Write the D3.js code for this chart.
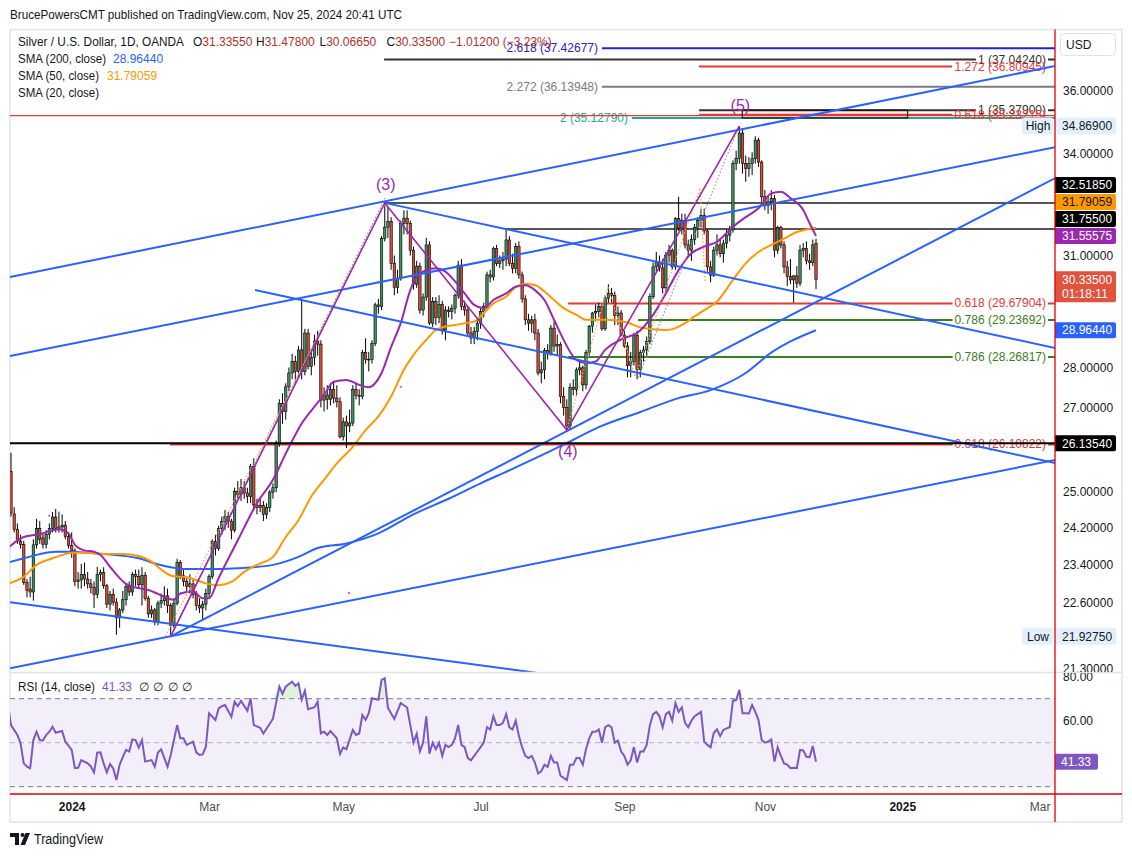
<!DOCTYPE html>
<html><head><meta charset="utf-8">
<script src="https://cdn.jsdelivr.net/npm/d3@7/dist/d3.min.js"></script>
<style>html,body{margin:0;padding:0;background:#fff;}svg{display:block;}</style>
</head><body>
<svg id="chart" width="1132" height="857"></svg>
<script>
// ================= DATA =================
// Daily XAG/USD bars (OANDA), Dec 4 2023 .. Nov 25 2024
const barOpen = [25.47,24.51,24.17,23.91,23.84,23.03,22.89,22.83,23.83,24.19,23.98,23.84,24.06,24.19,24.44,24.19,24.22,24.26,24.01,23.82,
23.70,23.05,23.08,23.20,23.10,23.00,22.92,22.78,23.20,23.24,22.96,22.58,22.78,22.62,22.30,22.46,22.67,22.95,22.83,23.20,
23.15,22.98,23.18,22.70,22.38,22.46,22.22,22.60,22.65,22.75,22.55,22.15,22.60,23.45,23.17,23.05,22.95,23.00,22.78,22.55,
22.50,22.58,22.80,23.15,23.90,23.75,24.19,24.34,24.45,24.35,24.15,25.01,24.95,25.10,24.98,24.90,25.59,24.71,24.65,24.70,
24.50,24.65,25.00,25.10,26.14,27.10,26.90,27.51,27.86,28.15,27.90,28.45,27.90,28.89,28.03,28.26,28.68,28.60,27.18,27.31,
27.20,27.44,27.23,27.14,26.29,26.65,26.55,26.62,27.44,27.30,27.27,28.38,28.21,28.20,28.62,29.64,29.59,31.48,31.81,31.97,
30.78,30.11,30.35,31.92,32.07,31.92,31.15,30.20,30.70,29.50,29.85,31.30,29.15,29.73,29.30,29.65,28.97,29.50,29.46,29.55,
29.90,30.73,29.60,29.50,28.89,28.76,28.93,29.15,29.46,29.59,30.46,30.40,31.20,30.78,30.85,30.90,31.44,30.78,30.64,31.25,
30.46,29.80,29.24,29.15,29.24,28.89,27.86,27.94,28.43,28.35,29.02,28.55,28.59,27.27,27.00,26.55,27.50,27.45,27.94,27.99,
27.56,28.38,29.07,29.42,29.46,29.59,29.00,29.82,29.95,29.90,29.35,29.42,28.84,28.55,28.05,28.15,28.82,27.95,28.38,28.45,
28.67,29.86,30.68,30.80,30.65,30.10,31.01,31.15,30.68,32.06,31.78,32.00,31.30,31.15,31.45,31.80,32.00,32.15,31.70,30.68,
30.45,31.15,31.30,31.05,31.35,31.58,31.73,33.71,33.86,34.65,33.71,33.55,33.70,33.85,34.43,33.75,32.70,32.45,32.55,32.65,
31.15,31.80,31.30,30.68,30.41,30.32,30.43,30.23,31.15,31.20,30.85,30.80,31.3355];
const barHigh = [25.91,24.66,24.30,24.05,23.92,23.10,23.15,23.95,24.40,24.35,24.10,24.15,24.30,24.55,24.62,24.56,24.50,24.35,24.10,24.10,
23.75,23.25,23.42,23.45,23.25,23.10,23.05,23.36,23.30,23.35,23.00,22.85,22.90,22.70,22.50,22.85,23.00,23.05,23.25,23.30,
23.30,23.35,23.25,22.75,22.55,22.50,22.65,22.80,22.95,22.90,22.60,22.70,23.53,23.50,23.30,23.15,23.20,23.10,22.85,22.70,
22.65,22.90,23.20,23.95,24.05,24.25,24.45,24.60,24.55,24.40,25.10,25.25,25.30,25.25,25.10,25.65,25.78,24.85,24.85,24.80,
24.75,25.05,25.20,26.20,27.20,27.35,27.60,28.00,28.35,28.30,28.55,29.80,29.00,29.00,28.45,28.85,28.95,28.70,27.50,27.55,
27.60,27.65,27.55,27.25,26.75,26.80,26.95,27.55,27.60,27.45,28.45,28.75,28.40,28.70,29.70,29.80,31.55,32.5185,32.40,32.10,
31.00,30.60,32.00,32.30,32.30,32.00,31.25,30.85,30.80,29.95,31.50,31.40,29.85,29.85,29.90,29.75,29.60,29.60,29.65,29.95,
30.85,30.90,29.75,29.60,29.05,29.05,29.25,29.55,29.70,30.55,30.60,31.25,31.30,31.00,31.10,31.755,31.55,31.05,31.35,31.40,
30.55,29.90,29.40,29.35,29.40,29.00,28.15,28.50,28.60,29.10,29.20,28.85,28.65,27.50,27.20,27.60,27.70,28.00,28.15,28.05,
28.45,29.10,29.45,29.65,29.70,29.65,29.90,30.20,30.10,30.00,29.60,29.50,28.95,28.65,28.40,28.90,28.95,28.45,28.55,28.80,
29.95,30.80,31.10,31.00,30.90,31.10,31.30,31.20,32.10,32.70,32.20,32.20,31.45,31.60,31.90,32.10,32.35,32.35,31.75,30.85,
31.25,31.60,31.45,31.45,31.75,31.85,33.80,34.10,34.869,34.80,33.95,33.90,34.05,34.55,34.50,33.80,32.90,32.75,32.90,32.75,
31.85,31.85,31.40,30.85,30.90,30.45,30.70,31.30,31.35,31.40,31.05,31.45,31.478];
const barLow = [24.45,24.10,23.85,23.75,22.98,22.72,22.72,22.65,23.75,23.85,23.75,23.75,23.95,24.10,24.10,24.10,24.10,23.95,23.75,23.55,
22.95,22.90,22.90,22.95,22.90,22.80,22.50,22.70,23.05,22.90,22.50,22.45,22.55,21.96,22.10,22.40,22.55,22.75,22.75,22.95,
22.90,22.55,22.65,22.30,22.30,22.15,22.15,22.50,22.55,22.40,21.9275,22.10,22.55,23.10,22.95,22.85,22.80,22.70,22.45,22.40,
22.25,22.45,22.70,23.10,23.60,23.70,24.05,24.15,24.20,23.95,24.10,24.85,24.80,24.85,24.75,24.75,24.60,24.50,24.55,24.35,
24.40,24.55,24.85,25.00,26.05,26.60,26.70,27.40,27.70,27.60,27.75,27.70,27.80,27.95,27.80,28.05,28.30,27.00,26.90,26.95,
27.05,27.10,27.00,26.25,26.20,26.02,26.40,26.55,27.20,27.05,27.20,28.10,27.90,28.10,28.55,29.40,29.50,31.40,31.50,30.60,
29.90,29.95,30.30,31.60,31.60,31.00,30.05,30.10,29.40,29.35,29.75,29.10,29.05,29.10,29.15,28.85,28.70,29.30,29.25,29.40,
29.80,29.50,29.35,28.80,28.60,28.60,28.70,29.00,29.30,29.50,30.25,30.30,30.70,30.65,30.60,30.70,30.70,30.50,30.50,30.35,
29.70,29.10,28.95,28.90,28.70,27.80,27.60,27.70,28.20,28.30,28.40,28.30,27.10,26.80,26.45,26.45,27.30,27.30,27.80,27.40,
27.45,28.30,28.90,29.20,29.30,28.95,28.95,29.70,29.70,29.10,29.10,28.80,28.50,27.75,27.75,28.05,27.70,27.75,28.15,28.30,
28.60,29.80,30.55,30.55,29.95,30.00,30.80,30.60,30.60,31.70,31.60,31.20,30.95,30.85,31.30,31.50,31.80,31.60,30.55,30.25,
30.40,31.00,30.95,30.80,31.20,31.40,31.65,33.50,33.70,33.40,33.15,33.30,33.35,33.70,33.60,32.55,32.30,32.20,32.30,30.95,
31.05,31.20,30.50,30.15,30.20,29.70,30.10,30.15,30.95,30.75,30.60,30.70,30.0665];
const barClose = [24.53,24.17,23.91,23.84,23.03,22.86,22.83,23.83,24.19,23.95,23.84,24.06,24.19,24.44,24.19,24.22,24.26,24.01,23.82,23.70,
23.05,23.08,23.20,23.10,23.00,22.92,22.78,23.20,23.24,22.96,22.58,22.78,22.62,22.30,22.46,22.67,22.95,22.83,23.20,23.15,
22.98,23.18,22.70,22.38,22.46,22.22,22.60,22.65,22.75,22.55,22.15,22.60,23.45,23.17,23.05,22.95,23.00,22.78,22.55,22.50,
22.58,22.80,23.15,23.90,23.75,24.19,24.34,24.45,24.35,24.15,25.01,24.95,25.10,24.98,24.90,25.59,24.71,24.65,24.70,24.50,
24.65,25.00,25.10,26.14,27.10,26.90,27.51,27.86,28.15,27.90,28.45,27.90,28.89,28.03,28.26,28.68,28.60,27.18,27.31,27.20,
27.44,27.23,27.14,26.29,26.65,26.55,26.62,27.44,27.30,27.27,28.38,28.21,28.20,28.62,29.64,29.59,31.48,31.81,31.97,30.78,
30.11,30.35,31.92,32.07,31.92,31.15,30.20,30.70,29.50,29.85,31.30,29.15,29.73,29.30,29.65,28.97,29.50,29.46,29.55,29.90,
30.73,29.60,29.50,28.89,28.76,28.93,29.15,29.46,29.59,30.46,30.40,31.20,30.78,30.85,30.90,31.44,30.78,30.64,31.25,30.46,
29.80,29.24,29.15,29.24,28.89,27.86,27.94,28.43,28.35,29.02,28.55,28.59,27.27,27.00,26.55,27.50,27.45,27.94,27.99,27.56,
28.38,29.07,29.42,29.46,29.59,29.00,29.82,29.95,29.90,29.35,29.42,28.84,28.55,28.05,28.15,28.82,27.95,28.38,28.45,28.67,
29.86,30.68,30.80,30.65,30.10,31.01,31.15,30.68,32.06,31.78,32.00,31.30,31.15,31.45,31.80,32.00,32.15,31.70,30.68,30.45,
31.15,31.30,31.05,31.35,31.58,31.73,33.71,33.86,34.65,33.71,33.55,33.70,33.85,34.43,33.75,32.70,32.45,32.55,32.65,31.15,
31.80,31.30,30.68,30.41,30.32,30.43,30.23,31.15,31.20,30.85,30.80,31.30,30.335];

// Moving averages: [bar index, price]
const sma200 = [[-1,23.45],[4,23.54],[9,23.63],[14,23.68],[19,23.68],[24,23.66],[29,23.63],[40,23.54],[45,23.43],[50,23.35],[55,23.31],[61,23.31],[71,23.33],[82,23.40],[90,23.57],[96,23.76],[105,23.86],[115,24.08],[126,24.5],[137,24.85],[147,25.2],[156,25.5],[166,25.85],[174,26.14],[184,26.52],[197,26.89],[209,27.23],[219,27.43],[230,27.86],[238,28.38],[244,28.67],[252,28.9644]];
const sma50 = [[-1,23.0],[4,23.15],[8,23.40],[13,23.54],[17,23.63],[19,23.66],[24,23.66],[29,23.63],[35,23.63],[40,23.59],[44,23.47],[48,23.25],[51,23.16],[54,23.15],[58,23.08],[61,23.01],[65,22.97],[69,23.04],[73,23.25],[77,23.40],[82,23.57],[86,24.0],[90,24.37],[94,24.9],[98,25.28],[102,25.66],[107,26.05],[111,26.45],[115,26.78],[119,27.27],[123,27.94],[126,28.32],[130,28.71],[133,28.97],[136,29.06],[139,29.10],[142,29.15],[145,29.19],[148,29.42],[151,29.68],[155,29.86],[158,30.13],[161,30.21],[164,30.18],[167,30.0],[170,29.77],[173,29.55],[177,29.37],[180,29.24],[186,29.24],[192,29.19],[198,29.02],[205,28.97],[208,29.02],[211,29.15],[214,29.33],[217,29.50],[221,29.73],[226,30.32],[230,30.78],[234,31.10],[238,31.30],[242,31.48],[246,31.67],[250,31.76],[252,31.79059]];
const sma20 = [[-1,23.76],[4,24.0],[9,24.06],[13,24.15],[15,24.17],[18,24.08],[20,23.83],[23,23.71],[26,23.68],[28,23.61],[31,23.36],[34,23.12],[36,23.0],[38,22.94],[40,22.91],[43,22.87],[46,22.79],[49,22.70],[51,22.67],[53,22.80],[57,22.84],[60,22.70],[62,22.70],[65,23.12],[71,23.93],[77,24.75],[82,25.28],[86,25.89],[91,26.61],[95,27.02],[98,27.31],[101,27.64],[105,27.68],[109,27.56],[112,27.50],[114,27.60],[116,27.86],[119,28.53],[122,29.15],[125,30.04],[127,30.41],[130,30.59],[133,30.64],[136,30.55],[139,30.28],[142,29.95],[145,29.64],[148,29.55],[151,29.77],[155,29.95],[158,30.13],[161,30.17],[164,30.04],[167,29.77],[170,29.24],[173,28.71],[177,28.19],[180,28.11],[183,28.15],[186,28.45],[192,28.76],[196,28.89],[201,29.37],[205,29.95],[209,30.59],[213,31.06],[217,31.25],[221,31.39],[226,31.82],[230,32.10],[234,32.36],[238,32.80],[241,32.85],[244,32.66],[248,32.31],[250,31.92],[252,31.55575]];

// RSI(14): [bar index, value]
const rsi14 = [[-1,68],[0,58],[2,53.5],[3,49.7],[4,40.6],[5,39.1],[6,38.4],[7,51.2],[8,55],[9,51.2],[10,51],[11,53.5],[12,55],[13,57.3],[14,54.5],[16,55.3],[17,50.5],[19,46.7],[20,38.4],[21,38.6],[22,42.1],[24,40.6],[25,39.2],[26,36.5],[27,45.5],[28,45.6],[29,40.6],[30,36.5],[31,40.3],[32,38.3],[33,33],[34,40],[35,43.4],[36,46.7],[37,46],[38,51.5],[39,51.2],[40,47.7],[41,51.2],[42,41.4],[44,42.1],[45,39.1],[46,45.5],[47,47],[49,39.1],[50,44.4],[52,58],[53,52],[54,52],[55,49],[57,50.5],[58,45.6],[59,44.4],[60,44.7],[61,48.2],[62,63.4],[64,60.3],[65,65.6],[66,66.6],[67,67.1],[69,61.7],[70,68.6],[71,66.6],[72,69],[74,64.5],[75,70.2],[76,58],[78,56.8],[79,54.2],[81,58.6],[82,60.9],[84,75.5],[85,72.2],[86,75.5],[88,77.7],[89,75.8],[90,77],[91,69.5],[92,73.6],[93,65.2],[95,66.1],[96,68.6],[97,54.2],[98,55],[99,53.5],[100,55.3],[102,52],[103,44.9],[104,47.9],[105,47],[107,55.8],[108,53.5],[109,54.2],[110,62.6],[111,60.3],[112,63.4],[113,70.2],[115,69.5],[116,78.5],[117,79.3],[118,65.8],[120,60.8],[122,68],[123,67],[124,66],[125,58],[126,50],[127,54],[128,46],[129,50],[130,62],[131,45],[132,50],[133,47],[134,50],[135,44],[136,49],[137,48],[138,49],[139,52],[140,58],[141,49],[142,48],[143,43],[144,42],[145,44],[146,46],[147,48],[148,50],[149,57],[150,56],[151,62],[152,58],[153,58],[154,59],[155,63],[156,57],[157,56],[158,60],[159,53],[160,48],[161,44],[162,43],[163,44],[164,41],[165,36],[166,37],[167,40],[168,39],[169,44],[170,41],[171,41],[172,35],[173,34],[174,33],[175,40],[176,40],[177,43],[178,43],[179,40],[180,47],[181,52],[182,55],[183,55],[184,56],[185,50],[186,57],[187,58],[188,57],[189,50],[190,51],[191,46],[192,44],[193,40],[194,42],[195,48],[196,41],[197,46],[198,46],[199,49],[200,58],[201,63],[202,64],[203,62],[204,57],[205,63],[206,64],[207,60],[208,68],[209,64],[210,66],[211,59],[212,57],[213,60],[214,62],[215,63],[216,64],[217,50.5],[218,49],[219,47.9],[220,54.4],[221,56.1],[222,53],[223,55.8],[224,56.5],[225,57],[226,69.1],[227,69.4],[228,74],[229,63.4],[230,63.4],[231,63.3],[232,67.1],[233,64],[234,60.3],[235,51.2],[236,50],[237,50.5],[238,51.5],[239,41.4],[240,47.9],[241,44],[242,40.6],[243,40],[244,38.4],[245,38.6],[246,38.4],[247,46.7],[248,46.5],[249,43.6],[250,43.4],[251,48.5],[252,41.33]];

// Axis tick values (the ones not hidden by value markers)
const priceTicks = [36, 34, 31, 28, 27, 25, 24.2, 23.4, 22.6, 21.3];
const rsiTicks = [80, 60];
const monthNames = ['Jan','Feb','Mar','Apr','May','Jun','Jul','Aug','Sep','Oct','Nov','Dec'];
const closedDays = ['2023-12-25','2024-01-01','2024-03-29'];

// Drawings anchored in (bar index, price)
const trendLines = [
  [[-0.31,30.40],[326.9,36.83]],
  [[-0.31,28.29],[326.9,34.21]],
  [[-0.31,21.30],[326.9,25.74]],
  [[50,21.9275],[326.9,33.26]],
  [[-0.31,22.62],[326.9,19.91]],
  [[117,32.5185],[326.9,28.50]],
  [[76.4,30.04],[326.9,25.67]]
];
const waveLine = [[50,21.9275],[117,32.5185],[174,26.45],[228,34.869]];
const waveLabels = [{t:'(3)',i:117,p:32.5185,dy:-13},{t:'(4)',i:174,p:26.45,dy:27},{t:'(5)',i:228,p:34.869,dy:-15}];
const fibLevels = [
  {k:'blue',  p:37.42677, from:185,   to:327,  text:'2.618 (37.42677)', side:'left'},
  {k:'black', p:37.0424,  from:116.8, to:327,  text:'1 (37.04240)',     side:'right'},
  {k:'red',   p:36.80945, from:215.4, to:294.6,text:'1.272 (36.80945)', side:'right'},
  {k:'gray',  p:36.13948, from:185,   to:327,  text:'2.272 (36.13948)', side:'left'},
  {k:'black', p:35.379,   from:215.4, to:327,  text:'1 (35.37900)',     side:'right'},
  {k:'red',   p:35.23215, from:215.4, to:294.6,text:'0.618 (35.23215)', side:'right'},
  {k:'teal',  p:35.1279,  from:194.4, to:327,  text:'2 (35.12790)',     side:'left'},
  {k:'red',   p:29.67904, from:174.4, to:327,  text:'0.618 (29.67904)', side:'right'},
  {k:'green', p:29.23692, from:196.3, to:327,  text:'0.786 (29.23692)', side:'right'},
  {k:'green', p:28.26817, from:174.4, to:327,  text:'0.786 (28.26817)', side:'right'},
  {k:'red',   p:26.10822, from:49.8,  to:327,  text:'0.618 (26.10822)', side:'right'}
];
const plainLevels = [
  {k:'dgray', p:32.5185, from:117},
  {k:'dgray', p:31.755,  from:154.7},
  {k:'redthin', p:35.20, from:-0.31}
];
const supportLevel = {p:26.1354, from:-0.31};
const boxZone = {i0:228.9, i1:280.7, p0:35.379, p1:35.1279};
const dottedOrange = [
  [[48.3,21.93],[117.1,32.49]],
  [[117.1,32.49],[131.8,30.82]],
  [[173.8,26.43],[186.9,30.13],[195.4,27.76],[215.7,32.96],[217.3,30.23]]
];
const dottedGray = [
  [[49.9,21.93],[117.1,32.66]],
  [[196.3,27.74],[227.6,34.81]]
];
const pinkDots = [[12,24.47],[105.8,22.81],[122,27.51]];
const axisMarkers = [
  {v:32.5185,  t:'32.51850', bg:'#000000', fg:'#ffffff'},
  {v:31.79059, t:'31.79059', bg:'#ff9800', fg:'#131722'},
  {v:31.755,   t:'31.75500', bg:'#000000', fg:'#ffffff'},
  {v:31.55575, t:'31.55575', bg:'#9c27b0', fg:'#ffffff'},
  {v:30.335,   t:'30.33500', t2:'01:18:11', bg:'#e0533f', fg:'#ffffff'},
  {v:28.9644,  t:'28.96440', bg:'#2962ff', fg:'#ffffff'},
  {v:26.1354,  t:'26.13540', bg:'#000000', fg:'#ffffff'}
];
const highLow = [{v:34.869, name:'High', t:'34.86900'},{v:21.9275, name:'Low', t:'21.92750'}];

// ================= RENDER =================
const FONT = '"Liberation Sans", Arial, Helvetica, sans-serif';
const svg = d3.select('#chart').style('font-family', FONT);
const L = 10, R = 1055, T = 30, B = 672, RT = 673, RB = 794, FR = 1122, FB = 822;
const GREEN = '#3f8f5f', RED = '#d94a33', BLUE = '#2962ff', PURPLE = '#9c27b0', ORANGE = '#ff9800';
const lvlColor = {blue:'#2323c8', black:'#333333', red:'#e53935', gray:'#787b86', teal:'#26a69a', green:'#3b7d23', dgray:'#555555', redthin:'#e53935'};

const x = d3.scaleLinear().domain([0, 252]).range([11, 816]);
const y = d3.scaleLog().domain([21.3, 36]).range([668.3, 91]);
const ry = d3.scaleLinear().domain([30, 70]).range([786.7, 698.7]);

// dates (calendar of bars)
const dates = [];
{
  const closed = new Set(closedDays);
  const d = new Date(Date.UTC(2023, 11, 4));
  while (dates.length < 345) {
    const wd = d.getUTCDay(), s = d.toISOString().slice(0, 10);
    const future = s > '2024-11-25';
    if (wd !== 0 && wd !== 6 && (future || !closed.has(s))) dates.push(s);
    d.setUTCDate(d.getUTCDate() + 1);
  }
}

const defs = svg.append('defs');
function clip(id, x0, y0, w, h) { defs.append('clipPath').attr('id', id).append('rect').attr('x', x0).attr('y', y0).attr('width', w).attr('height', h); }
clip('cP', L, T, R - L, B - T);
clip('cR', L, RT, R - L, RB - RT);
clip('cPA', R, T, FR - R, B - T);
clip('cRA', R, RT, FR - R, RB - RT);

svg.append('rect').attr('width', 1132).attr('height', 857).attr('fill', '#fff');

// header
svg.append('text').attr('x', 10).attr('y', 19).attr('font-size', 13).attr('fill', '#131722')
  .attr('textLength', 392).attr('lengthAdjust', 'spacingAndGlyphs')
  .text('BrucePowersCMT published on TradingView.com, Nov 25, 2024 20:41 UTC');

// frame
svg.append('rect').attr('x', L).attr('y', 29.5).attr('width', FR - L).attr('height', FB - 29.5)
  .attr('fill', 'none').attr('stroke', '#e0e3eb').attr('stroke-width', 1.5);

// ---------- RSI pane background ----------
const gRB = svg.append('g').attr('clip-path', 'url(#cR)');
gRB.append('rect').attr('x', L).attr('y', ry(70)).attr('width', R - L).attr('height', ry(30) - ry(70)).attr('fill', '#f2eefa');
[[70, '#787b86'], [50, '#b2b5be'], [30, '#787b86']].forEach(([v, c]) => {
  gRB.append('line').attr('x1', L).attr('x2', R).attr('y1', ry(v)).attr('y2', ry(v))
    .attr('stroke', c).attr('stroke-width', 1).attr('stroke-dasharray', '5,4');
});

// ---------- price pane ----------
const gP = svg.append('g').attr('clip-path', 'url(#cP)');
const px = a => x(a[0]), py = a => y(a[1]);

// fib levels + labels
const gF = gP.append('g');
fibLevels.forEach(f => {
  const yy = y(f.p), c = lvlColor[f.k];
  gF.append('line').attr('x1', x(f.from)).attr('x2', Math.min(R, x(f.to))).attr('y1', yy).attr('y2', yy)
    .attr('stroke', c).attr('stroke-width', 2);
});
fibLevels.forEach(f => {
  const yy = y(f.p), c = lvlColor[f.k];
  const t = gF.append('text').attr('font-size', 12).attr('fill', c).attr('y', yy + 4).text(f.text);
  if (f.side === 'left') { t.attr('x', x(f.from) - 4).attr('text-anchor', 'end'); }
  else {
    t.attr('x', 1046).attr('text-anchor', 'end');
    const bb = t.node().getBBox();
    if (f.to > 300) gF.insert('rect', () => t.node()).attr('x', bb.x - 2).attr('y', yy - 3).attr('width', bb.width + 4).attr('height', 6).attr('fill', '#fff');
  }
});
plainLevels.forEach(l => {
  gP.append('line').attr('x1', x(l.from)).attr('x2', R).attr('y1', y(l.p)).attr('y2', y(l.p))
    .attr('stroke', lvlColor[l.k]).attr('stroke-width', l.k === 'redthin' ? 1.3 : 2);
});
// zone box
gP.append('rect').attr('x', x(boxZone.i0)).attr('y', y(boxZone.p0)).attr('width', x(boxZone.i1) - x(boxZone.i0))
  .attr('height', y(boxZone.p1) - y(boxZone.p0)).attr('fill', 'rgba(242,54,69,0.10)').attr('stroke', '#000').attr('stroke-width', 1);

// candles
const gC = gP.append('g');
const idx = d3.range(barClose.length);
gC.selectAll('line.w').data(idx).join('line').attr('class', 'w')
  .attr('x1', i => x(i)).attr('x2', i => x(i)).attr('y1', i => y(barHigh[i])).attr('y2', i => y(barLow[i]))
  .attr('stroke', '#000').attr('stroke-width', 1);
gC.selectAll('rect.b').data(idx).join('rect').attr('class', 'b')
  .attr('x', i => x(i) - 1.2).attr('width', 2.4)
  .attr('y', i => y(Math.max(barOpen[i], barClose[i])))
  .attr('height', i => Math.max(0.8, y(Math.min(barOpen[i], barClose[i])) - y(Math.max(barOpen[i], barClose[i]))))
  .attr('fill', i => barClose[i] >= barOpen[i] ? GREEN : RED).attr('stroke', '#000').attr('stroke-width', 0.6);

// moving averages
const maLine = d3.line().x(px).y(py).curve(d3.curveMonotoneX);
[[sma200, BLUE], [sma50, ORANGE], [sma20, PURPLE]].forEach(([d, c]) => {
  gP.append('path').attr('d', maLine(d)).attr('fill', 'none').attr('stroke', c).attr('stroke-width', 2);
});

// dotted fib tool lines
const straight = d3.line().x(px).y(py);
dottedGray.forEach(d => gP.append('path').attr('d', straight(d)).attr('fill', 'none').attr('stroke', '#9598a1').attr('stroke-width', 1.2).attr('stroke-dasharray', '1.5,2'));
dottedOrange.forEach(d => gP.append('path').attr('d', straight(d)).attr('fill', 'none').attr('stroke', '#f7a35c').attr('stroke-width', 1.2).attr('stroke-dasharray', '1.5,2'));

// trend lines
trendLines.forEach(d => gP.append('path').attr('d', straight(d)).attr('fill', 'none').attr('stroke', BLUE).attr('stroke-width', 2));

// support line on top
gP.append('line').attr('x1', L).attr('x2', R).attr('y1', y(supportLevel.p)).attr('y2', y(supportLevel.p)).attr('stroke', '#000').attr('stroke-width', 2);

// elliott wave
gP.append('path').attr('d', straight(waveLine)).attr('fill', 'none').attr('stroke', '#9c27b0').attr('stroke-width', 1.6);
waveLabels.forEach(w => gP.append('text').attr('x', x(w.i) + 1).attr('y', y(w.p) + w.dy).attr('text-anchor', 'middle')
  .attr('font-size', 16).attr('fill', '#9c27b0').text(w.t));
pinkDots.forEach(d => gP.append('circle').attr('cx', px(d)).attr('cy', py(d)).attr('r', 1.2).attr('fill', '#f06292'));

// ---------- RSI ----------
const gR = svg.append('g').attr('clip-path', 'url(#cR)');
gR.append('path').attr('d', d3.area().x(px).y0(ry(70)).y1(d => ry(Math.max(70, d[1])))(rsi14)).attr('fill', 'rgba(76,175,80,0.18)');
gR.append('path').attr('d', d3.line().x(px).y(d => ry(d[1]))(rsi14)).attr('fill', 'none').attr('stroke', '#7e57c2').attr('stroke-width', 2);

// pane separator
svg.append('line').attr('x1', L).attr('x2', FR).attr('y1', 672.5).attr('y2', 672.5).attr('stroke', '#e0e3eb').attr('stroke-width', 1.5);

// ---------- price axis ----------
const gPA = svg.append('g').attr('clip-path', 'url(#cPA)');
const pAxis = gPA.append('g').attr('transform', `translate(${R},0)`)
  .call(d3.axisRight(y).tickValues(priceTicks).tickSize(0).tickPadding(8).tickFormat(d3.format('.5f')));
pAxis.select('.domain').remove();
pAxis.selectAll('text').attr('font-size', 12).attr('fill', '#131722').attr('font-family', FONT);

// RSI axis
const gRA = svg.append('g').attr('clip-path', 'url(#cRA)');
const rAxis = gRA.append('g').attr('transform', `translate(${R},0)`)
  .call(d3.axisRight(ry).tickValues(rsiTicks).tickSize(0).tickPadding(8).tickFormat(d3.format('.2f')));
rAxis.select('.domain').remove();
rAxis.selectAll('text').attr('font-size', 12).attr('fill', '#131722').attr('font-family', FONT);

// axis markers with stacking
function roundRight(x0, y0, w, h, r) {
  return `M${x0},${y0}H${x0 + w - r}Q${x0 + w},${y0} ${x0 + w},${y0 + r}V${y0 + h - r}Q${x0 + w},${y0 + h} ${x0 + w - r},${y0 + h}H${x0}Z`;
}
const mk = axisMarkers.map(m => Object.assign({}, m, {yy: y(m.v)})).sort((a, b) => b.yy - a.yy);
for (let k = 1; k < mk.length; k++) {
  const limit = mk[k - 1].yy - 17;
  if (mk[k].yy > limit && !mk[k].t2) mk[k].yy = limit;
}
mk.forEach(m => {
  const h = m.t2 ? 31 : 16;
  svg.append('path').attr('d', roundRight(R, m.yy - 8, 61, h, 2)).attr('fill', m.bg);
  svg.append('text').attr('x', R + 7).attr('y', m.yy + 4.3).attr('font-size', 12).attr('fill', m.fg).text(m.t);
  if (m.t2) svg.append('text').attr('x', R + 7).attr('y', m.yy + 19).attr('font-size', 12).attr('fill', m.fg).text(m.t2);
});
highLow.forEach(h => {
  const yy = y(h.v);
  svg.append('rect').attr('x', 1022).attr('y', yy - 8.5).attr('width', 31).attr('height', 17).attr('fill', '#e3effd').attr('rx', 2);
  svg.append('text').attr('x', 1038).attr('y', yy + 4.3).attr('text-anchor', 'middle').attr('font-size', 12).attr('fill', '#131722').text(h.name);
  svg.append('rect').attr('x', R + 0.5).attr('y', yy - 8.5).attr('width', 61).attr('height', 17).attr('fill', '#e3effd').attr('rx', 2);
  svg.append('text').attr('x', R + 7).attr('y', yy + 4.3).attr('font-size', 12).attr('fill', '#131722').text(h.t);
});
// RSI value marker
{
  const last = rsi14[rsi14.length - 1][1], yy = ry(last);
  svg.append('path').attr('d', roundRight(R, yy - 8, 43, 16, 2)).attr('fill', '#7e57c2');
  svg.append('text').attr('x', R + 6).attr('y', yy + 4.3).attr('font-size', 12).attr('fill', '#fff').text(last.toFixed(2));
}

// USD box
svg.append('rect').attr('x', 1060.5).attr('y', 33.5).attr('width', 55).attr('height', 22).attr('rx', 4).attr('fill', '#fff').attr('stroke', '#e0e3eb');
svg.append('text').attr('x', 1066).attr('y', 49).attr('font-size', 12).attr('fill', '#131722').text('USD');

// ---------- time axis ----------
const ticks = [];
dates.forEach((d, i) => {
  if (i === 0) return;
  if (d.slice(0, 7) !== dates[i - 1].slice(0, 7)) {
    const m = +d.slice(5, 7);
    if (m % 2 === 1) ticks.push({i, label: m === 1 ? d.slice(0, 4) : monthNames[m - 1], year: m === 1});
  }
});
const tAxis = svg.append('g').attr('transform', `translate(0,${RB})`)
  .call(d3.axisBottom(x).tickValues(ticks.filter(t => x(t.i) < R - 10).map(t => t.i)).tickSize(0).tickPadding(8.5)
    .tickFormat(v => ticks.find(t => t.i === v).label));
tAxis.select('.domain').remove();
tAxis.selectAll('text').attr('font-family', FONT).attr('font-size', 12)
  .attr('fill', v => ticks.find(t => t.i === v).year ? '#131722' : '#4a4d57')
  .attr('font-weight', v => ticks.find(t => t.i === v).year ? 'bold' : 'normal');

// red scale borders
svg.append('line').attr('x1', R).attr('x2', R).attr('y1', 29.5).attr('y2', FB).attr('stroke', '#e00000').attr('stroke-width', 1.3);
svg.append('line').attr('x1', L).attr('x2', FR).attr('y1', RB).attr('y2', RB).attr('stroke', '#e00000').attr('stroke-width', 1.3);

// ---------- legends ----------
const lg = svg.append('g').attr('font-size', 12);
lg.append('text').attr('x', 18).attr('y', 46).attr('fill', '#131722').attr('textLength', 166).attr('lengthAdjust', 'spacingAndGlyphs').text('Silver / U.S. Dollar, 1D, OANDA');
const ohlc = [['O', '31.33550', 193], ['H', '31.47800', 256], ['L', '30.06650', 319.5], ['C', '30.33500', 386.5]];
ohlc.forEach(([k, v, xx]) => {
  const t = lg.append('text').attr('x', xx).attr('y', 46).attr('fill', '#131722');
  t.append('tspan').text(k);
  t.append('tspan').attr('fill', '#b2302b').text(v);
});
lg.append('text').attr('x', 449).attr('y', 46).attr('fill', '#b2302b').text('−1.01200 (−3.23%)');
const smaLeg = [['SMA (200, close)', '28.96440', BLUE, 63, 88, 113], ['SMA (50, close)', '31.79059', ORANGE, 80, 81, 107], ['SMA (20, close)', null, null, 97, 81, 0]];
smaLeg.forEach(([n, v, c, yy, w, vx]) => {
  lg.append('text').attr('x', 18).attr('y', yy).attr('fill', '#131722').attr('textLength', w).attr('lengthAdjust', 'spacingAndGlyphs').text(n);
  if (v) lg.append('text').attr('x', vx).attr('y', yy).attr('fill', c).text(v);
});
lg.append('text').attr('x', 18).attr('y', 691).attr('fill', '#131722').attr('textLength', 77).attr('lengthAdjust', 'spacingAndGlyphs').text('RSI (14, close)');
lg.append('text').attr('x', 102).attr('y', 691).attr('fill', '#7e57c2').text('41.33');
lg.append('text').attr('x', 139).attr('y', 691).attr('fill', '#131722').attr('textLength', 53).attr('lengthAdjust', 'spacing').text('∅ ∅ ∅ ∅');

// ---------- footer logo ----------
const logo = svg.append('g').attr('fill', '#131722');
logo.append('path').attr('d', 'M10,833 H19 V845 H15 V837 H10 Z');
logo.append('circle').attr('cx', 22.5).attr('cy', 835).attr('r', 2);
logo.append('path').attr('d', 'M25.5,833 H30 L25,845 H20.5 Z');
svg.append('text').attr('x', 34).attr('y', 844).attr('font-size', 14).attr('fill', '#131722').attr('textLength', 69).attr('lengthAdjust', 'spacingAndGlyphs').text('TradingView');
</script>
</body></html>
